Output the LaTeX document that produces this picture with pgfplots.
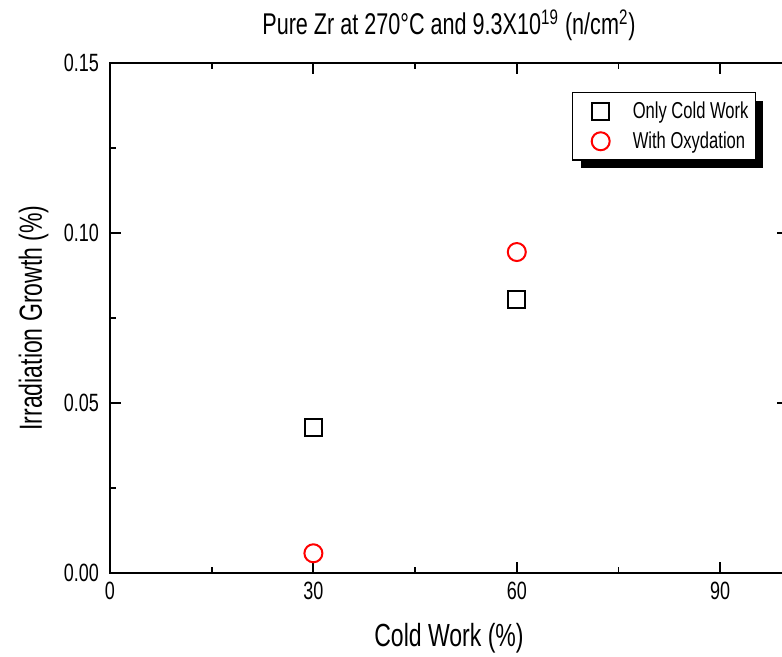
\documentclass[border=0pt]{standalone}
\usepackage{fontspec}
\setmainfont{Liberation Sans}[FakeStretch=0.72]
\usepackage{pgfplots}
\pgfplotsset{compat=1.18}
\usetikzlibrary{shadows}
\pgfplotsset{
    shiftedmark/.style={
        legend image code/.code={\path (0cm,0cm) (0.6cm+4.5pt,0cm);
            \draw[##1] plot coordinates {(9.5pt,0cm)};}
    }
}

\begin{document}
\begin{tikzpicture}
\begin{axis}[
    scale only axis,
    width=339pt, height=255pt,
    xmin=0, xmax=100, ymin=0, ymax=0.15,
    clip=false,
    xtick={0,30,60,90}, minor xtick={15,45,75},
    ytick={0,0.05,0.10,0.15}, minor ytick={0.025,0.075,0.125},
    /pgf/number format/assume math mode=true,
    yticklabel style={/pgf/number format/fixed, /pgf/number format/fixed zerofill,
        /pgf/number format/precision=2, xshift=-2pt},
    ticklabel style={font=\fontsize{12.5}{14}\selectfont},
    xticklabel style={yshift=-1pt},
    tick align=inside,
    major tick length=5.5pt, minor tick length=3pt,
    axis line style={line width=1.4pt},
    tick style={black, line width=0.9pt},
    minor tick style={black, line width=0.9pt},
    title={Pure Zr at 270\textdegree C and 9.3X10\textsuperscript{19} (n/cm\textsuperscript{2})},
    title style={font=\fontsize{15}{17}\selectfont, at={([yshift=8pt]axis description cs:0.5,1)}, anchor=base},
    xlabel={Cold Work (\%)},
    xlabel style={font=\fontsize{16}{18}\selectfont, at={([yshift=-37pt]axis description cs:0.5,0)}, anchor=base},
    ylabel={Irradiation Growth (\%)},
    ylabel style={font=\fontsize{16}{18}\selectfont, at={([xshift=-34pt]axis description cs:0,0.5)}, anchor=base},
    legend style={
        at={(rel axis cs:0.6814,0.943)}, anchor=north west,
        draw=black, line width=0.7pt, fill=white,
        font=\fontsize{11.5}{13}\selectfont,
        inner xsep=4pt, inner ysep=2.5pt,
        row sep=1pt,
        drop shadow={shadow xshift=4pt, shadow yshift=-4pt, fill=black, opacity=1},
    },
    legend cell align=left,
]
\addplot[only marks, mark=square, mark size=4.25pt, black, line width=1pt, shiftedmark]
    coordinates {(30,0.0428) (60,0.0803)};
\addlegendentry{\hspace{1.5pt}Only Cold Work\kern-2.5pt}
\addplot[only marks, mark=o, mark size=4.5pt, red, line width=1pt, shiftedmark]
    coordinates {(30,0.0058) (60,0.0944)};
\addlegendentry{\hspace{1.5pt}With Oxydation\kern-2.5pt}
\end{axis}
\pgfresetboundingbox
\path (-55pt,-42pt) rectangle (336pt,286.5pt);
\end{tikzpicture}
\end{document}
